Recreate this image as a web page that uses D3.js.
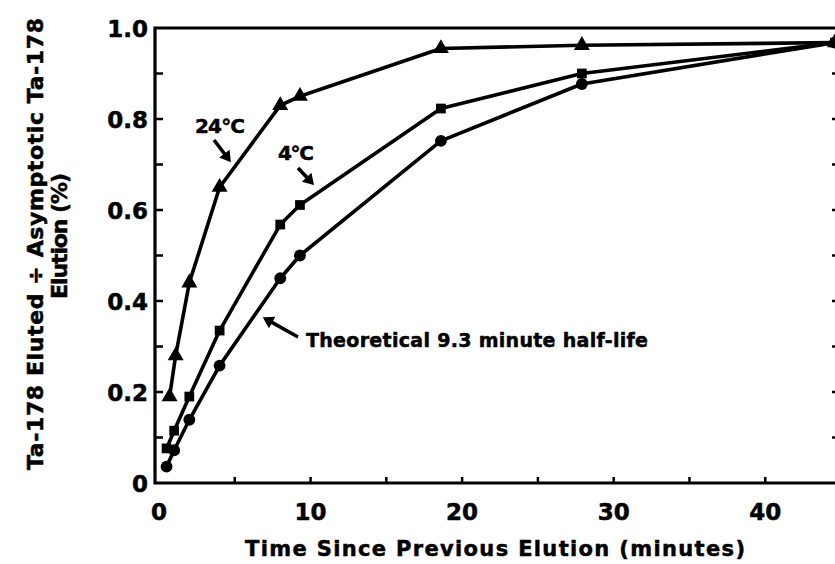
<!DOCTYPE html>
<html>
<head>
<meta charset="utf-8">
<script src="https://cdn.jsdelivr.net/npm/d3@7"></script>
<style>
  body { margin: 0; background: #fff; }
  text { font-family: "DejaVu Sans", "Liberation Sans", Arial, sans-serif; font-weight: bold; fill: #000; stroke: #000; stroke-width: 0.5; }
</style>
</head>
<body>
<div id="chart"></div>
<script>
// elution data
const minutes24 = [0.7, 1.1, 2.0, 4.0, 8.0, 9.3, 18.6, 27.9, 44.6];
const eluted24 = [0.19, 0.28, 0.44, 0.65, 0.83, 0.85, 0.955, 0.962, 0.968];

const minutes4 = [0.5, 1.0, 2.0, 4.0, 8.0, 9.3, 18.6, 27.9, 44.6];
const eluted4 = [0.076, 0.115, 0.19, 0.335, 0.568, 0.611, 0.823, 0.9, 0.968];

const minutesTheo = [0.5, 1.0, 2.0, 4.0, 8.0, 9.3, 18.6, 27.9, 44.6];
const elutedTheo = [0.036, 0.072, 0.139, 0.258, 0.45, 0.5, 0.752, 0.877, 0.968];

const xTicks = [0, 10, 20, 30, 40];
const yTicks = [0, 0.2, 0.4, 0.6, 0.8, 1.0];

const W = 835, H = 564;
const svg = d3.select("#chart").append("svg")
    .attr("width", W)
    .attr("height", H);

// scales
const x = d3.scaleLinear().domain([0, 44.8]).range([159, 838]);
const y = d3.scaleLinear().domain([0, 1]).range([483, 28]);

const frameLeft = 155, frameRight = 838;

// frame
svg.append("path")
    .attr("d", `M${frameLeft},${y(1)} H${frameRight} V${y(0)} H${frameLeft} Z`)
    .attr("fill", "none")
    .attr("stroke", "#000")
    .attr("stroke-width", 3.2);

// minor ticks, pointing inward
const xMinor = d3.range(5, 45, 5);
svg.append("g").selectAll("line").data(xMinor).join("line")
    .attr("x1", d => x(d)).attr("x2", d => x(d))
    .attr("y1", y(0)).attr("y2", y(0) - 6)
    .attr("stroke", "#000").attr("stroke-width", 2.5);

const yMinor = d3.range(1, 10).map(d => d / 10);
svg.append("g").selectAll("line").data(yMinor).join("line")
    .attr("x1", frameLeft).attr("x2", frameLeft + 8)
    .attr("y1", d => y(d)).attr("y2", d => y(d))
    .attr("stroke", "#000").attr("stroke-width", 2.5);

svg.append("g").selectAll("line").data(yMinor).join("line")
    .attr("x1", frameRight).attr("x2", frameRight - 6)
    .attr("y1", d => y(d)).attr("y2", d => y(d))
    .attr("stroke", "#000").attr("stroke-width", 2.5);

// tick labels
svg.append("g").selectAll("text").data(xTicks).join("text")
    .attr("x", d => x(d))
    .attr("y", 520)
    .attr("text-anchor", "middle")
    .attr("font-size", 23)
    .text(d => d);

svg.append("g").selectAll("text").data(yTicks).join("text")
    .attr("x", 148)
    .attr("y", d => y(d) + 9)
    .attr("text-anchor", "end")
    .attr("font-size", 23)
    .text(d => d === 0 ? "0" : d3.format(".1f")(d));

// axis titles
svg.append("text")
    .attr("x", 245)
    .attr("y", 556)
    .attr("font-size", 21)
    .attr("textLength", 500)
    .attr("lengthAdjust", "spacing")
    .text("Time Since Previous Elution (minutes)");

const yTitle = svg.append("text")
    .attr("transform", "translate(0,244) rotate(-90)")
    .attr("font-size", 22);
yTitle.append("tspan").attr("x", -226).attr("y", 43)
    .attr("textLength", 452).attr("lengthAdjust", "spacing")
    .text("Ta-178 Eluted ÷ Asymptotic Ta-178");
yTitle.append("tspan").attr("x", -55).attr("y", 67)
    .attr("textLength", 126).attr("lengthAdjust", "spacing")
    .text("Elution (%)");

// series
const line = d3.line().x(d => x(d[0])).y(d => y(d[1]));
const series = [
    {pts: d3.zip(minutes24, eluted24), shape: d3.symbolTriangle, size: 110},
    {pts: d3.zip(minutes4, eluted4), shape: d3.symbolSquare, size: 95},
    {pts: d3.zip(minutesTheo, elutedTheo), shape: d3.symbolCircle, size: 110}
];

series.forEach(s => {
    svg.append("path")
        .datum(s.pts)
        .attr("d", line)
        .attr("fill", "none")
        .attr("stroke", "#000")
        .attr("stroke-width", 3.6)
        .attr("stroke-linejoin", "round");
    svg.append("g").selectAll("path").data(s.pts).join("path")
        .attr("transform", d => `translate(${x(d[0])},${y(d[1])})`)
        .attr("d", d3.symbol().type(s.shape).size(s.size))
        .attr("fill", "#000");
});

// annotations
const arrow = (x1, y1, x2, y2) => {
    const a = Math.atan2(y2 - y1, x2 - x1), h = 10;
    svg.append("line")
        .attr("x1", x1).attr("y1", y1)
        .attr("x2", x2 - Math.cos(a) * 5).attr("y2", y2 - Math.sin(a) * 5)
        .attr("stroke", "#000").attr("stroke-width", 3.6);
    const p1 = [x2 - h * Math.cos(a - 0.55), y2 - h * Math.sin(a - 0.55)];
    const p2 = [x2 - h * Math.cos(a + 0.55), y2 - h * Math.sin(a + 0.55)];
    svg.append("path")
        .attr("d", `M${x2},${y2} L${p1} L${p2} Z`)
        .attr("fill", "#000").attr("stroke", "#000").attr("stroke-width", 1.5);
};

svg.append("text").attr("x", 195).attr("y", 133).attr("font-size", 20)
    .attr("textLength", 50).attr("lengthAdjust", "spacing").text("24°C");
arrow(214, 140, 230, 161);

svg.append("text").attr("x", 278).attr("y", 160).attr("font-size", 20)
    .attr("textLength", 36).attr("lengthAdjust", "spacing").text("4°C");
arrow(298, 168, 313, 184);

svg.append("text").attr("x", 306).attr("y", 347).attr("font-size", 19)
    .attr("textLength", 342).attr("lengthAdjust", "spacing")
    .text("Theoretical 9.3 minute half-life");
arrow(298, 337, 264, 318);
</script>
</body>
</html>
